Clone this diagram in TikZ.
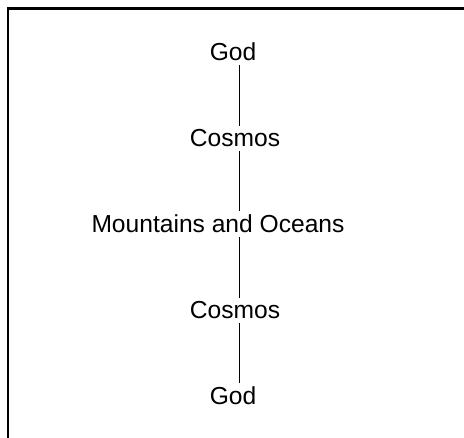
\documentclass[tikz,border=0pt]{standalone}
\usepackage{fontspec}
\setmainfont{Liberation Sans}
\usetikzlibrary{positioning}
\tikzset{
  word/.style  ={anchor=base, inner xsep=0pt, inner ysep=4pt,
                 font=\fontsize{24.6}{29}\selectfont},
  link/.style  ={draw=black, line width=0.8pt},
  rim/.style   ={draw=black, line width=2.6pt, line join=miter}
}

\begin{document}
\begin{tikzpicture}[x=1pt,y=-1pt]
\useasboundingbox (0,0) rectangle (464,438);
\draw[rim] (8,438) -- (8,8.7) -- (464,8.7);
\coordinate (spine) at (239,0);

\node[word] (godtop)    at (233,61)  {God};
\node[word] (cosmostop) at (235,147) {Cosmos};
\node[word] (earth)     at (218,233) {Mountains and Oceans};
\node[word] (cosmosbot) at (235,319) {Cosmos};
\node[word] (godbot)    at (233,405) {God};

\draw[link] (godtop.south -| spine)    -- (cosmostop.north -| spine);
\draw[link] (cosmostop.south -| spine) -- (earth.north -| spine);
\draw[link] (earth.south -| spine)     -- (cosmosbot.north -| spine);
\draw[link] (cosmosbot.south -| spine) -- (godbot.north -| spine);
\end{tikzpicture}
\end{document}
